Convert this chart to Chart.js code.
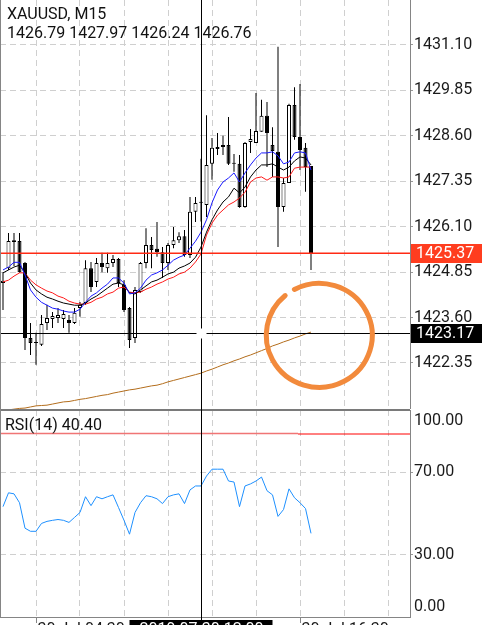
<!DOCTYPE html>
<html>
<head>
<meta charset="utf-8">
<script src="https://cdn.jsdelivr.net/npm/chart.js@4.4.0/dist/chart.umd.min.js"></script>
<style>
  html, body { margin: 0; padding: 0; background: #fff; }
  #wrap { position: relative; width: 495px; height: 625px; overflow: hidden; }
  #main { position: absolute; left: 0; top: 0; }
  #rsi { position: absolute; left: 0; top: 409px; }
</style>
</head>
<body>
<div id="wrap">
  <canvas id="main" width="495" height="409"></canvas>
  <canvas id="rsi" width="495" height="216"></canvas>
</div>
<script>
// XAUUSD M15 candles
var symbolName = "XAUUSD, M15";
var openP = [1424.55,1424.96,1425.68,1425.71,1425.10,1423.04,1422.90,1422.85,1423.45,1423.56,
             1423.59,1423.56,1423.53,1423.45,1423.86,1424.00,1424.96,1424.58,1425.10,1424.96,
             1425.10,1425.21,1424.50,1423.86,1423.04,1424.30,1425.10,1425.60,1425.49,1425.40,
             1425.10,1425.60,1425.73,1425.84,1425.32,1426.51,1426.79,1426.70,1427.83,1428.24,
             1428.35,1428.35,1427.85,1427.83,1426.64,1428.43,1428.40,1428.71,1429.15,1428.35,
             1428.16,1426.64,1427.30,1429.45,1428.57,1428.27,1427.77];
var highP = [1424.85,1425.93,1425.93,1425.93,1425.13,1423.45,1423.18,1423.67,1423.95,1423.75,
             1423.86,1423.81,1423.67,1423.86,1424.03,1425.18,1425.13,1425.24,1425.38,1425.38,
             1425.32,1425.24,1424.63,1423.89,1424.44,1425.13,1426.06,1425.82,1426.23,1425.54,
             1425.65,1426.09,1425.95,1426.01,1426.92,1426.92,1427.97,1429.17,1428.54,1428.68,
             1428.60,1429.12,1428.10,1428.07,1428.43,1428.79,1429.78,1429.59,1429.53,1428.84,
             1431.05,1427.44,1429.48,1429.94,1430.03,1428.40,1427.77];
var lowP = [1423.81,1424.91,1425.02,1424.83,1422.71,1422.57,1422.30,1422.82,1423.26,1423.31,
            1423.45,1423.31,1423.18,1423.42,1423.62,1423.95,1424.30,1424.44,1424.85,1424.83,
            1424.99,1424.44,1423.75,1422.76,1422.90,1424.28,1424.96,1424.96,1425.27,1424.69,
            1424.91,1425.51,1425.65,1425.27,1425.24,1426.23,1426.24,1426.37,1427.39,1428.07,
            1428.07,1427.80,1427.61,1426.62,1426.62,1428.13,1428.40,1428.71,1427.74,1427.47,
            1425.54,1426.51,1427.30,1428.49,1427.66,1427.06,1424.91];
var closeP = [1424.61,1425.71,1425.73,1424.85,1423.04,1422.90,1422.93,1423.42,1423.59,1423.64,
              1423.67,1423.70,1423.45,1423.73,1423.95,1424.96,1424.44,1425.10,1424.99,1425.10,
              1425.21,1424.55,1423.81,1422.98,1424.36,1425.10,1425.60,1425.46,1425.40,1425.10,
              1425.60,1425.73,1425.84,1425.32,1426.51,1426.75,1426.76,1427.80,1428.27,1428.29,
              1428.29,1427.83,1427.83,1426.64,1428.40,1428.51,1428.73,1429.15,1428.68,1428.18,
              1426.64,1427.30,1429.45,1428.57,1428.21,1427.74,1425.37];

// moving averages (blue / black / red / brown)
var maFast = [1424.91,1424.99,1425.12,1425.12,1424.77,1424.36,1424.16,1424.02,1423.94,1423.86,
              1423.83,1423.78,1423.75,1423.75,1423.83,1424.02,1424.19,1424.28,1424.41,1424.52,
              1424.69,1424.69,1424.55,1424.25,1424.28,1424.41,1424.63,1424.77,1424.83,1424.91,
              1425.04,1425.18,1425.26,1425.32,1425.51,1425.70,1425.95,1426.29,1426.76,1427.11,
              1427.33,1427.44,1427.58,1427.33,1427.58,1427.80,1427.99,1428.13,1428.13,1428.16,
              1428.05,1427.83,1427.88,1428.13,1428.16,1428.13,1427.66];
var maMid = [1424.83,1424.91,1424.99,1425.04,1424.83,1424.55,1424.36,1424.25,1424.16,1424.11,
             1424.05,1424.00,1423.97,1423.94,1423.94,1424.00,1424.11,1424.19,1424.30,1424.41,
             1424.52,1424.55,1424.50,1424.28,1424.25,1424.36,1424.47,1424.58,1424.63,1424.71,
             1424.80,1424.85,1424.96,1425.02,1425.10,1425.26,1425.54,1425.95,1426.29,1426.56,
             1426.78,1426.92,1427.16,1427.03,1427.19,1427.47,1427.66,1427.80,1427.80,1427.83,
             1427.74,1427.66,1427.74,1427.91,1428.02,1427.99,1427.80];
var maSlow = [1424.58,1424.63,1424.74,1424.83,1424.83,1424.63,1424.50,1424.41,1424.33,1424.28,
              1424.19,1424.14,1424.05,1424.00,1423.97,1423.97,1424.02,1424.11,1424.16,1424.25,
              1424.30,1424.41,1424.44,1424.30,1424.28,1424.30,1424.38,1424.44,1424.52,1424.58,
              1424.66,1424.71,1424.80,1424.85,1424.96,1425.13,1425.35,1425.87,1426.20,1426.42,
              1426.56,1426.70,1426.78,1426.89,1427.05,1427.33,1427.44,1427.47,1427.38,1427.47,
              1427.47,1427.44,1427.47,1427.71,1427.74,1427.74,1427.74];
var maLong = [1421.03,1421.06,1421.08,1421.10,1421.11,1421.14,1421.17,1421.18,1421.19,1421.22,
              1421.25,1421.28,1421.29,1421.32,1421.35,1421.37,1421.40,1421.43,1421.46,1421.48,
              1421.52,1421.55,1421.58,1421.61,1421.63,1421.66,1421.69,1421.72,1421.74,1421.78,
              1421.83,1421.87,1421.91,1421.95,1421.99,1422.03,1422.07,1422.13,1422.18,1422.24,
              1422.30,1422.35,1422.41,1422.46,1422.52,1422.57,1422.63,1422.69,1422.75,1422.82,
              1422.87,1422.93,1422.98,1423.04,1423.09,1423.15,1423.20];

var rsiVals = [53.3,60.0,59.5,55.2,42.9,41.4,41.4,45.2,46.2,46.7,
               47.1,46.7,45.7,48.1,50.5,58.1,53.8,58.1,57.1,58.1,
               59.0,52.9,46.7,40.0,50.5,55.2,58.6,58.1,57.1,54.8,
               58.1,59.0,59.5,54.8,61.4,63.3,63.3,68.1,71.4,71.4,
               71.4,65.7,65.2,53.3,63.3,64.3,65.7,67.6,61.0,59.0,
               48.6,51.9,61.9,57.6,55.2,52.4,40.40];

var priceTicks = [1431.10, 1429.85, 1428.60, 1427.35, 1426.10, 1424.85, 1423.60, 1422.35];
var rsiTicks = [100, 70, 30, 0];
var rsiGrid = [70, 30];
var rsiLevel = 89;
var gridIdx = [6, 14, 22, 30, 38, 46, 54, 62, 70];
var timeIdx = [6, 54];
var timeLabels = ["30 Jul 04:30", "30 Jul 16:30"];
var lastPrice = 1425.37;
var crossIdx = 36;
var crossPrice = 1423.17;
var crossTime = "2019.07.30 12:00";
var markIdx = 57.5, markPrice = 1423.11;   // hand drawn circle

var xMin = -3 / 5.5;
var xMax = xMin + 410 / 5.5;
var FONT = "16px Roboto";
var GRID = "#cfcfcf";
var AXIS = "#858585";

function pts(arr) { return arr.map(function (v, i) { return {x: i, y: v}; }); }
var bodyColors = openP.map(function (o, i) { return closeP[i] >= o ? "#ffffff" : "#000000"; });

function noPad(s) { s.paddingTop = 0; s.paddingBottom = 0; s.paddingLeft = 0; s.paddingRight = 0; }

function maLine(arr, color, w) {
    return {type: "line", data: pts(arr), borderColor: color, borderWidth: w || 1,
            pointRadius: 0, tension: 0, order: 0};
}

var mainDecor = {
    id: "mainDecor",
    afterDatasetsDraw: function (chart) {
        var ctx = chart.ctx, a = chart.chartArea, x = chart.scales.x, y = chart.scales.y;
        ctx.save();
        // last price line
        var py = Math.round(y.getPixelForValue(lastPrice));
        ctx.fillStyle = "#ff2a14";
        ctx.fillRect(a.left, py - 0.5, a.right - a.left, 1.5);

        // crosshair
        var cx = Math.round(x.getPixelForValue(crossIdx)) + 0.5;
        var cy = Math.round(y.getPixelForValue(crossPrice)) + 0.5;
        ctx.strokeStyle = "#000";
        ctx.lineWidth = 1;
        ctx.beginPath();
        ctx.moveTo(a.left, cy); ctx.lineTo(cx - 5, cy);
        ctx.moveTo(cx + 5, cy); ctx.lineTo(a.right, cy);
        ctx.moveTo(cx, 0); ctx.lineTo(cx, cy - 5);
        ctx.moveTo(cx, cy + 5); ctx.lineTo(cx, chart.height);
        ctx.stroke();
        ctx.restore();
    },
    afterDraw: function (chart) {
        var ctx = chart.ctx, a = chart.chartArea, x = chart.scales.x, y = chart.scales.y;
        ctx.save();
        // left frame
        ctx.fillStyle = AXIS;
        ctx.fillRect(0, 0, 1, chart.height);

        // price boxes on the axis
        var py = y.getPixelForValue(lastPrice);
        ctx.fillStyle = "#ff3d1f";
        ctx.fillRect(a.right + 1, Math.round(py) - 9, 71, 19);
        var cy = y.getPixelForValue(crossPrice);
        ctx.fillStyle = "#000";
        ctx.fillRect(a.right + 1, Math.round(cy) - 9, 71, 19);
        ctx.font = FONT;
        ctx.textBaseline = "middle";
        ctx.fillStyle = "#fff";
        ctx.fillText(lastPrice.toFixed(2), a.right + 6, Math.round(py) + 1);
        ctx.fillText(crossPrice.toFixed(2), a.right + 6, Math.round(cy) + 1);

        // header
        ctx.textBaseline = "alphabetic";
        ctx.fillStyle = "#111";
        ctx.fillText(symbolName, 7, 19);
        var i = crossIdx;
        var ohlc = [openP[i], highP[i], lowP[i], closeP[i]].map(function (v) { return v.toFixed(2); }).join(" ");
        ctx.fillText(ohlc, 7, 38);

        // orange hand drawn circle
        var mx = x.getPixelForValue(markIdx), my = y.getPixelForValue(markPrice);
        ctx.strokeStyle = "#f28a3c";
        ctx.lineWidth = 5;
        ctx.lineCap = "round";
        ctx.beginPath();
        ctx.ellipse(mx, my, 53, 52, 0, -118 * Math.PI / 180, 230 * Math.PI / 180);
        ctx.stroke();
        ctx.restore();
    }
};

var mainChart = new Chart(document.getElementById("main"), {
    type: "line",
    data: {
        datasets: [
            maLine(maFast, "#1a1aff"),
            maLine(maMid, "#000000"),
            maLine(maSlow, "#ff1a1a"),
            maLine(maLong, "#b36d1c"),
            {type: "bar", data: openP.map(function (o, i) { return {x: i, y: [o, closeP[i]]}; }),
             backgroundColor: bodyColors, borderColor: "#000", borderWidth: 1, borderSkipped: false,
             barThickness: 4, grouped: false, minBarLength: 1, inflateAmount: 0, order: 1},
            {type: "bar", data: lowP.map(function (l, i) { return {x: i, y: [l, highP[i]]}; }),
             backgroundColor: "#000", borderWidth: 0, barThickness: 1, grouped: false,
             inflateAmount: 0, order: 2}
        ]
    },
    options: {
        responsive: false,
        animation: false,
        devicePixelRatio: 1,
        events: [],
        layout: {padding: 0},
        plugins: {legend: {display: false}, tooltip: {enabled: false}},
        scales: {
            x: {
                type: "linear", min: xMin, max: xMax, offset: false,
                afterBuildTicks: function (s) { s.ticks = gridIdx.map(function (v) { return {value: v}; }); },
                afterFit: function (s) { s.height = 0; noPad(s); },
                ticks: {display: false},
                grid: {color: GRID, drawTicks: false, offset: false},
                border: {display: false, dash: [6, 4]}
            },
            y: {
                position: "right", min: 1421.084, max: 1432.338, beginAtZero: false,
                afterBuildTicks: function (s) { s.ticks = priceTicks.map(function (v) { return {value: v}; }); },
                afterFit: function (s) { s.width = 85; noPad(s); },
                ticks: {
                    font: {family: "Roboto", size: 16}, color: "#1a1a1a", padding: 1,
                    callback: function (v) { return Number(v).toFixed(2); }
                },
                grid: {color: GRID, tickLength: 3, tickColor: "#999"},
                border: {display: true, color: AXIS, width: 1, dash: [6, 4]}
            }
        }
    },
    plugins: [mainDecor]
});

var rsiDecor = {
    id: "rsiDecor",
    beforeDatasetsDraw: function (chart) {
        var ctx = chart.ctx, a = chart.chartArea, y = chart.scales.y;
        var ly = Math.round(y.getPixelForValue(rsiLevel)) + 0.5;
        ctx.save();
        ctx.lineWidth = 1.5;
        ctx.strokeStyle = "#f07575";
        ctx.beginPath(); ctx.moveTo(a.left, ly); ctx.lineTo(298, ly); ctx.stroke();
        ctx.lineWidth = 1;
        ctx.strokeStyle = "#ff0000";
        ctx.beginPath(); ctx.moveTo(298, ly + 0.5); ctx.lineTo(a.right, ly + 0.5); ctx.stroke();
        ctx.restore();
    },
    afterDraw: function (chart) {
        var ctx = chart.ctx, a = chart.chartArea, x = chart.scales.x, y = chart.scales.y;
        ctx.save();
        // panel separator and left frame
        ctx.fillStyle = "#7a7a7a";
        ctx.fillRect(0, 0, a.right, 2);
        ctx.fillStyle = AXIS;
        ctx.fillRect(0, 0, 1, a.bottom);

        ctx.font = FONT;
        ctx.fillStyle = "#1a1a1a";
        ctx.textBaseline = "middle";
        rsiTicks.forEach(function (v) {
            var py = y.getPixelForValue(v);
            py = Math.min(Math.max(py, a.top + 11), a.bottom - 10);
            ctx.fillText(v.toFixed(2), a.right + 4, py);
        });

        ctx.textBaseline = "alphabetic";
        ctx.fillStyle = "#111";
        ctx.fillText("RSI(14) " + rsiVals[rsiVals.length - 1].toFixed(2), 5, 21);

        // crosshair
        var cx = Math.round(x.getPixelForValue(crossIdx)) + 0.5;
        ctx.strokeStyle = "#000";
        ctx.lineWidth = 1;
        ctx.beginPath(); ctx.moveTo(cx, 0); ctx.lineTo(cx, chart.height); ctx.stroke();

        // time axis
        ctx.strokeStyle = AXIS;
        timeIdx.forEach(function (t, k) {
            var tx = Math.round(x.getPixelForValue(t)) + 0.5;
            ctx.beginPath(); ctx.moveTo(tx, a.bottom); ctx.lineTo(tx, a.bottom + 6); ctx.stroke();
            ctx.fillStyle = "#1a1a1a";
            ctx.textAlign = "left";
            ctx.fillText(timeLabels[k], tx + 1, a.bottom + 17);
        });
        ctx.fillStyle = "#000";
        ctx.fillRect(cx - 72, a.bottom + 3, 143, 20);
        ctx.fillStyle = "#fff";
        ctx.textAlign = "center";
        ctx.fillText(crossTime, cx, a.bottom + 17);
        ctx.restore();
    }
};

var rsiChart = new Chart(document.getElementById("rsi"), {
    type: "line",
    data: {
        datasets: [{data: pts(rsiVals), borderColor: "#1e90ff", borderWidth: 1, pointRadius: 0, tension: 0}]
    },
    options: {
        responsive: false,
        animation: false,
        devicePixelRatio: 1,
        events: [],
        layout: {padding: {top: 1}},
        plugins: {legend: {display: false}, tooltip: {enabled: false}},
        scales: {
            x: {
                type: "linear", min: xMin, max: xMax, offset: false,
                afterBuildTicks: function (s) { s.ticks = gridIdx.map(function (v) { return {value: v}; }); },
                afterFit: function (s) { s.height = 8; noPad(s); },
                ticks: {display: false},
                grid: {color: GRID, drawTicks: false, offset: false},
                border: {display: true, color: AXIS, width: 1, dash: [6, 4]}
            },
            y: {
                position: "right", min: 0, max: 100,
                afterBuildTicks: function (s) { s.ticks = rsiGrid.map(function (v) { return {value: v}; }); },
                afterFit: function (s) { s.width = 85; noPad(s); },
                ticks: {display: false},
                grid: {color: GRID, tickLength: 3, tickColor: "#999"},
                border: {display: true, color: AXIS, width: 1, dash: [6, 4]}
            }
        }
    },
    plugins: [rsiDecor]
});
</script>
</body>
</html>
